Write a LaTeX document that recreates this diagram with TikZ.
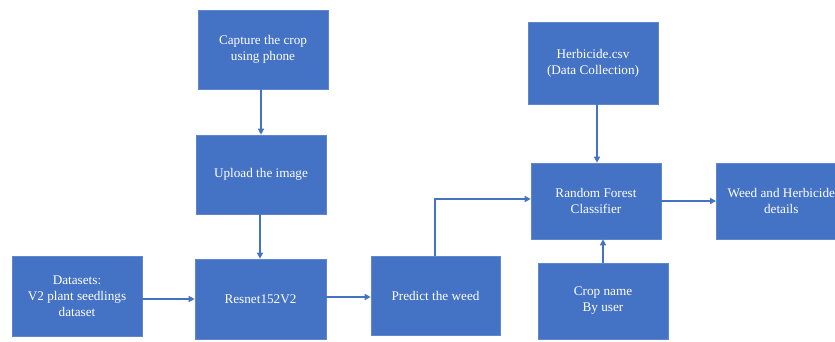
\documentclass[tikz,border=0pt]{standalone}
\usepackage{fontspec}
\setmainfont{Liberation Serif}
\usetikzlibrary{arrows.meta}
\definecolor{boxblue}{HTML}{4472C4}
\definecolor{linkblue}{HTML}{4472C4}
\begin{document}
\begin{tikzpicture}[x=1pt,y=-1pt,
  flowbox/.style={fill=boxblue,draw=boxblue!85!white,line width=0.6pt,text=white,align=center,font=\fontsize{13.2}{16}\selectfont,inner sep=0pt},
  link/.style={draw=linkblue,line width=1.3pt,-{Triangle[length=6pt,width=6pt]}}]
\useasboundingbox (0,0) rectangle (835,342);
\fill[white] (0,0) rectangle (835,342);
\newcommand{\mybox}[6]{\node[flowbox,minimum width=#4-#2,minimum height=#5-#3] (#1) at ({(#2+#4)/2},{(#3+#5)/2}) {#6};}
\mybox{capture}{198}{10}{328}{89}{Capture the crop\\using phone}
\mybox{upload}{196}{135}{326}{214}{Upload the image}
\mybox{data}{12}{256}{142}{336}{Datasets:\\V2 plant seedlings\\dataset}
\mybox{resnet}{195}{259}{326}{339}{Resnet152V2}
\mybox{predict}{371}{256}{500}{335}{Predict the weed}
\mybox{herb}{528}{22}{658}{104}{Herbicide.csv\\(Data Collection)}
\mybox{rf}{531}{163}{661}{239}{Random Forest\\Classifier}
\mybox{cropname}{538}{263}{668}{339}{Crop name\\By user}
\node[flowbox,minimum width=130,minimum height=76,anchor=north west] (weed) at (716,163) {Weed and Herbicide\\details};
\draw[link] (capture.south -| 261,0) -- (upload.north -| 261,0);
\draw[link] (upload.south -| 260,0) -- (resnet.north -| 260,0);
\draw[link] (data.east |- 0,299) -- (resnet.west |- 0,299);
\draw[link] (resnet.east |- 0,297) -- (predict.west |- 0,297);
\draw[link] (predict.north -| 435,0) |- (rf.west |- 0,199);
\draw[link] (herb.south -| 597,0) -- (rf.north -| 597,0);
\draw[link] (cropname.north -| 603,0) -- (rf.south -| 603,0);
\draw[link] (rf.east |- 0,201) -- (weed.west |- 0,201);
\end{tikzpicture}
\end{document}
